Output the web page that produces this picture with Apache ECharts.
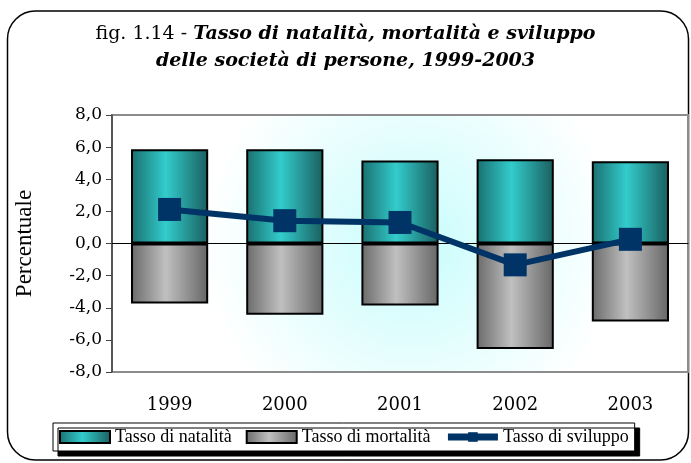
<!DOCTYPE html>
<html><head><meta charset="utf-8">
<script src="https://cdn.jsdelivr.net/npm/echarts@6/dist/echarts.min.js"></script>
<style>html,body{margin:0;padding:0;background:#fff}#c{width:691px;height:463px}</style>
</head><body><div id="c"></div>
<script>
const years = ['1999','2000','2001','2002','2003'];
const natalita = [5.86, 5.86, 5.17, 5.24, 5.12];
const mortalita = [-3.74, -4.44, -3.86, -6.57, -4.86];
const sviluppo = [2.12, 1.42, 1.31, -1.33, 0.26];
const yTicks = {min: -8, max: 8, interval: 2};

const serif = '"DejaVu Serif", serif';
const tserif = '"Liberation Serif", serif';
const chart = echarts.init(document.getElementById('c'));
const tealGrad = new echarts.graphic.LinearGradient(0,0,1,0,[
  {offset:0,color:'#1a6f6f'},{offset:0.45,color:'#33cccc'},{offset:1,color:'#1a5e5e'}]);
const greyGrad = new echarts.graphic.LinearGradient(0,0,1,0,[
  {offset:0,color:'#6a6a6a'},{offset:0.45,color:'#c0c0c0'},{offset:1,color:'#666666'}]);
chart.setOption({
  animation:false,
  title:{left:'center',top:16,
    text:'{n|fig. 1.14 - }{b|Tasso di natalità, mortalità e sviluppo}\n{b|delle società di persone, 1999-2003}',
    textStyle:{rich:{
      n:{fontFamily:serif,fontSize:19,fontWeight:'normal',color:'#000',lineHeight:27},
      b:{fontFamily:serif,fontSize:19,fontWeight:'bold',fontStyle:'italic',color:'#000',lineHeight:27}
    }}},
  graphic:[{type:'rect',shape:{x:7.5,y:11,width:681,height:449,r:28},
    style:{fill:'none',stroke:'#000',lineWidth:1.5},z:-10}],
  grid:{left:112,right:3,top:115,bottom:91,show:true,borderColor:'#8c8c8c',borderWidth:2,
    backgroundColor:{type:'radial',x:0.52,y:0.5,r:0.8,colorStops:[{offset:0,color:'#c8fcfc'},{offset:1,color:'#ffffff'}]}},
  legend:{left:53,top:423,padding:[5,6],itemGap:14,itemWidth:50,itemHeight:12,
    backgroundColor:'#fff',borderColor:'#000',borderWidth:1,
    shadowColor:'#000',shadowOffsetX:5,shadowOffsetY:5,shadowBlur:0,
    textStyle:{fontFamily:tserif,fontSize:18,color:'#000'},
    data:[
      {name:'Tasso di natalità',icon:'rect'},
      {name:'Tasso di mortalità',icon:'rect'},
      {name:'Tasso di sviluppo',lineStyle:{width:7,color:'#003366'},itemStyle:{color:'#003366'}}
    ]},
  xAxis:[
    {type:'category',data:years,position:'bottom',axisLine:{show:false,onZero:false},axisTick:{show:false},
     axisLabel:{fontFamily:serif,fontSize:18,color:'#000',margin:24}},
    {type:'category',data:years,position:'bottom',axisLine:{onZero:true,lineStyle:{color:'#000',width:1}},
     axisTick:{inside:false,length:7,lineStyle:{color:'#333',width:1}},axisLabel:{show:false}}
  ],
  yAxis:{type:'value',min:yTicks.min,max:yTicks.max,interval:yTicks.interval,
    name:'Percentuale',nameLocation:'middle',nameGap:76,
    nameTextStyle:{fontFamily:tserif,fontSize:23,color:'#000'},
    axisLine:{show:true,lineStyle:{color:'#444',width:1.5}},
    axisTick:{show:true,length:6,lineStyle:{color:'#444'}},
    splitLine:{show:false},
    axisLabel:{fontFamily:serif,fontSize:17,color:'#000',margin:10,
      formatter:v=>v.toFixed(1).replace('.',',')}},
  series:[
    {name:'Tasso di natalità',type:'bar',data:natalita,barWidth:'67%',barGap:'-100%',
     itemStyle:{color:tealGrad,borderColor:'#000',borderWidth:2}},
    {name:'Tasso di mortalità',type:'bar',data:mortalita,barWidth:'67%',
     itemStyle:{color:greyGrad,borderColor:'#000',borderWidth:2}},
    {name:'Tasso di sviluppo',type:'line',data:sviluppo,symbol:'rect',symbolSize:23,
     lineStyle:{color:'#003366',width:6},itemStyle:{color:'#003366'},z:5}
  ]
});
</script></body></html>
